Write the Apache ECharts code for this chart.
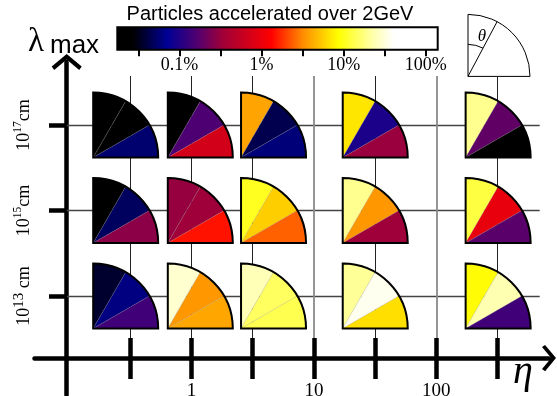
<!DOCTYPE html>
<html><head><meta charset="utf-8">
<script src="https://cdn.jsdelivr.net/npm/echarts@6/dist/echarts.min.js"></script>
<style>html,body{margin:0;padding:0;background:#fff}#c{width:557px;height:396px}</style>
</head><body><div id="c"></div>
<script>
// ---- data ----
// eta of each pie column
const ETA = [0.29, 1.18, 4.68, 31.7, 320];
// lambda_max rows (log10 of cm)
const LAMBDA = [17, 15, 13];
// % of particles accelerated over 2 GeV; each pie = [wedge near vertical, middle, wedge near horizontal]
const PCT_17 = [[0.02, 0.022, 0.056], [0.02, 0.16, 0.71], [3.9, 0.046, 0.06], [6.9, 0.095, 0.32], [19, 0.19, 0.022]];
const PCT_15 = [[0.02, 0.051, 0.28], [0.31, 0.34, 1.48], [10.2, 5.6, 2.4], [19, 3.5, 0.34], [12.3, 0.95, 0.18]];
const PCT_13 = [[0.037, 0.063, 0.14], [29, 3.5, 4.0], [24.5, 14.5, 13.3], [20, 36, 6.5], [8.5, 23.4, 0.14]];
// axis ticks (log10 values)
const ETA_TICKS = [-0.5, 0, 0.5, 1, 1.5, 2, 2.5];
const ETA_LABELS = [0, 1, 2];
const CB_TICKS = [-1.5, -1, -0.5, 0, 0.5, 1, 1.5, 2];
const CB_LABELS = [-1, 0, 1, 2];
const CB_MIN = -1.757, CB_MAX = 2.145;
// colour map (log10 % -> colour)
const CMAP = [[-1.757, '#000000'], [-1.56, '#000000'], [-1.14, '#000096'], [-0.78, '#500070'], [-0.47, '#a00038'],
  [0.12, '#ff0000'], [0.5, '#ff8c00'], [0.93, '#ffff00'], [1.32, '#ffffa0'], [1.6, '#ffffff'], [2.145, '#ffffff']];

// ---- helpers ----
function hex2rgb(h) { return [parseInt(h.substr(1, 2), 16), parseInt(h.substr(3, 2), 16), parseInt(h.substr(5, 2), 16)]; }
function cmapAt(v) {
  for (let i = 0; i < CMAP.length - 1; i++) {
    const a = CMAP[i], b = CMAP[i + 1];
    if (v <= b[0]) {
      const t = Math.max(0, (v - a[0]) / (b[0] - a[0]));
      const ca = hex2rgb(a[1]), cb = hex2rgb(b[1]);
      return 'rgb(' + ca.map((x, j) => Math.round(x + (cb[j] - x) * t)).join(',') + ')';
    }
  }
  return CMAP[CMAP.length - 1][1];
}
const N = 80;
const vmColors = [];
for (let i = 0; i < N; i++) vmColors.push(cmapAt(CB_MIN + (CB_MAX - CB_MIN) * i / (N - 1)));
const gradStops = CMAP.map(s => ({ offset: (s[0] - CB_MIN) / (CB_MAX - CB_MIN), color: s[1] }));

const PCT = { 17: PCT_17, 15: PCT_15, 13: PCT_13 };
const wedgeData = [], pieData = [];
LAMBDA.forEach(l => PCT[l].forEach((pie, i) => {
  pieData.push([Math.log10(ETA[i]), l]);
  pie.forEach((p, k) => wedgeData.push([Math.log10(ETA[i]), l, k, Math.log10(p)]));
}));

const R = 65;
function wedgeItem(params, api) {
  const c = api.coord([api.value(0), api.value(1)]);
  const cx = c[0] - R / 2, cy = c[1] + R / 2;
  const s = -Math.PI / 2 + api.value(2) * Math.PI / 6;
  return { type: 'sector', shape: { cx: cx, cy: cy, r0: 0, r: R, startAngle: s, endAngle: s + Math.PI / 6, clockwise: true },
    style: { fill: api.visual('color'), stroke: 'rgba(140,140,140,0.35)', lineWidth: 0.6 } };
}
function outlineItem(params, api) {
  const c = api.coord([api.value(0), api.value(1)]);
  return { type: 'sector', shape: { cx: c[0] - R / 2, cy: c[1] + R / 2, r0: 0, r: R, startAngle: -Math.PI / 2, endAngle: 0, clockwise: true },
    style: { fill: 'none', stroke: '#000', lineWidth: 2 } };
}

const SERIF = 'Liberation Serif', SANS = 'Liberation Sans';
const X_MIN = (34.5 - 191.5) / 122.4, X_MAX = (549 - 191.5) / 122.4;
const Y_MIN = 15 - (395 - 210.5) / 42.75, Y_MAX = 15 + (210.5 - 62) / 42.75;
const chev = 'path://M15,0 L30,12.5 L27.5,16 L15,5.5 L2.5,16 L0,12.5 Z';

function xAx(extra) {
  const a = Object.assign({ type: 'value', gridIndex: 0, min: X_MIN, max: X_MAX, position: 'bottom',
    axisLine: { show: false }, axisTick: { show: false }, axisLabel: { show: false }, splitLine: { show: false } }, extra);
  a.axisLine.onZero = false;
  return a;
}
function yAx(extra) {
  const a = Object.assign({ type: 'value', gridIndex: 0, min: Y_MIN, max: Y_MAX, position: 'left',
    axisLine: { show: false }, axisTick: { show: false }, axisLabel: { show: false }, splitLine: { show: false } }, extra);
  a.axisLine.onZero = false;
  return a;
}
const thA = 62 * Math.PI / 180;

const option = {
  animation: false,
  backgroundColor: '#fff',
  grid: [
    { left: 34.5, right: 8, top: 62, bottom: 1, outerBoundsMode: 'none', containLabel: false },
    { left: 117.3, right: 119.3, top: 27.2, bottom: 346.3, outerBoundsMode: 'none', containLabel: false, show: true,
      backgroundColor: { type: 'linear', x: 0, y: 0, x2: 1, y2: 0, colorStops: gradStops }, borderColor: '#000', borderWidth: 2 }
  ],
  xAxis: [
    xAx({ offset: -37, axisLine: { show: true, symbol: ['none', chev], symbolSize: [30, 14], lineStyle: { color: '#000', width: 4.5 } },
      axisTick: { show: true, customValues: ETA_TICKS, length: 21, lineStyle: { color: '#000', width: 4.5 } },
      axisLabel: { show: true, customValues: ETA_LABELS, margin: 24, formatter: v => String(Math.round(Math.pow(10, v))),
        fontFamily: SERIF, fontSize: 19, color: '#000' } }),
    xAx({ offset: -37, axisTick: { show: true, inside: true, customValues: ETA_TICKS, length: 20, lineStyle: { color: '#000', width: 4.5 } } }),
    xAx({ offset: -57, axisTick: { show: true, inside: true, customValues: [-0.5, 0, 0.5, 1.5, 2.5], length: 262, lineStyle: { color: '#222', width: 1 } } }),
    xAx({ offset: -57, axisTick: { show: true, inside: true, customValues: [1, 2], length: 262, lineStyle: { color: '#8a8a8a', width: 1.8 } } }),
    { type: 'value', gridIndex: 1, min: CB_MIN, max: CB_MAX, position: 'bottom', axisLine: { show: false, onZero: false }, splitLine: { show: false },
      axisTick: { show: true, customValues: CB_TICKS, length: 6.5, lineStyle: { color: '#000', width: 2 } },
      axisLabel: { show: true, customValues: CB_LABELS, margin: 7, formatter: v => Math.pow(10, v) + '%', fontFamily: SERIF, fontSize: 18, color: '#000' } }
  ],
  yAxis: [
    yAx({ offset: -32.2, axisLine: { show: true, symbol: ['none', chev], symbolSize: [30, 16], lineStyle: { color: '#000', width: 4.5 } },
      axisTick: { show: true, customValues: LAMBDA, length: 17.7, lineStyle: { color: '#000', width: 4.5 } },
      axisLabel: { show: true, customValues: LAMBDA, rotate: 90, margin: 30,
        formatter: v => v === 13 ? '{n|10}{t|13}{n| cm}' : '{n|10}{s|' + v + '}{n|cm}',
        rich: { n: { fontFamily: SERIF, fontSize: 18, lineHeight: 25, color: '#000' },
          s: { fontFamily: SERIF, fontSize: 11.5, lineHeight: 12, verticalAlign: 'top', color: '#000' },
          t: { fontFamily: SERIF, fontSize: 15, lineHeight: 15, verticalAlign: 'top', color: '#000' } } } }),
    yAx({ offset: -32.2, axisTick: { show: true, inside: true, customValues: LAMBDA, length: 473, lineStyle: { color: '#444', width: 1.3 } } }),
    { type: 'value', gridIndex: 1, min: 0, max: 1, show: false }
  ],
  visualMap: [{ type: 'continuous', show: false, seriesIndex: 0, dimension: 3, min: CB_MIN, max: CB_MAX, inRange: { color: vmColors } }],
  series: [
    { type: 'custom', coordinateSystem: 'cartesian2d', xAxisIndex: 0, yAxisIndex: 0, renderItem: wedgeItem, data: wedgeData, z: 5, encode: { x: 0, y: 1 } },
    { type: 'custom', coordinateSystem: 'cartesian2d', xAxisIndex: 0, yAxisIndex: 0, renderItem: outlineItem, data: pieData, z: 6, encode: { x: 0, y: 1 } }
  ],
  graphic: [
    { type: 'text', x: 270, y: 14, style: { text: 'Particles accelerated over 2GeV', font: '20px "Liberation Sans"', fill: '#000', textAlign: 'center', textVerticalAlign: 'middle' } },
    { type: 'text', x: 36, y: 42, style: { text: 'λ', font: '33px "Liberation Serif"', fill: '#000', textAlign: 'center', textVerticalAlign: 'middle' } },
    { type: 'text', x: 50, y: 46, style: { text: 'max', font: '26px "Liberation Sans"', fill: '#000', textAlign: 'left', textVerticalAlign: 'middle' } },
    { type: 'text', x: 523, y: 372, style: { text: 'η', font: 'italic 40px "Liberation Serif"', fill: '#000', textAlign: 'center', textVerticalAlign: 'middle' } },
    { type: 'sector', shape: { cx: 468, cy: 76.4, r0: 0, r: 62, startAngle: -Math.PI / 2, endAngle: 0 }, style: { fill: '#fff', stroke: '#000', lineWidth: 1 } },
    { type: 'line', shape: { x1: 468, y1: 76.4, x2: 468 + 62 * Math.cos(thA), y2: 76.4 - 62 * Math.sin(thA) }, style: { stroke: '#000', lineWidth: 1 } },
    { type: 'arc', shape: { cx: 468, cy: 76.4, r: 32, startAngle: -Math.PI / 2, endAngle: -thA, clockwise: true }, style: { stroke: '#000', fill: 'none', lineWidth: 1 } },
    { type: 'text', x: 482, y: 37, style: { text: 'θ', font: 'italic 17px "Liberation Serif"', fill: '#000', textAlign: 'center', textVerticalAlign: 'middle' } }
  ]
};
const chart = echarts.init(document.getElementById('c'), null, { renderer: 'canvas' });
chart.setOption(option);
</script></body></html>
